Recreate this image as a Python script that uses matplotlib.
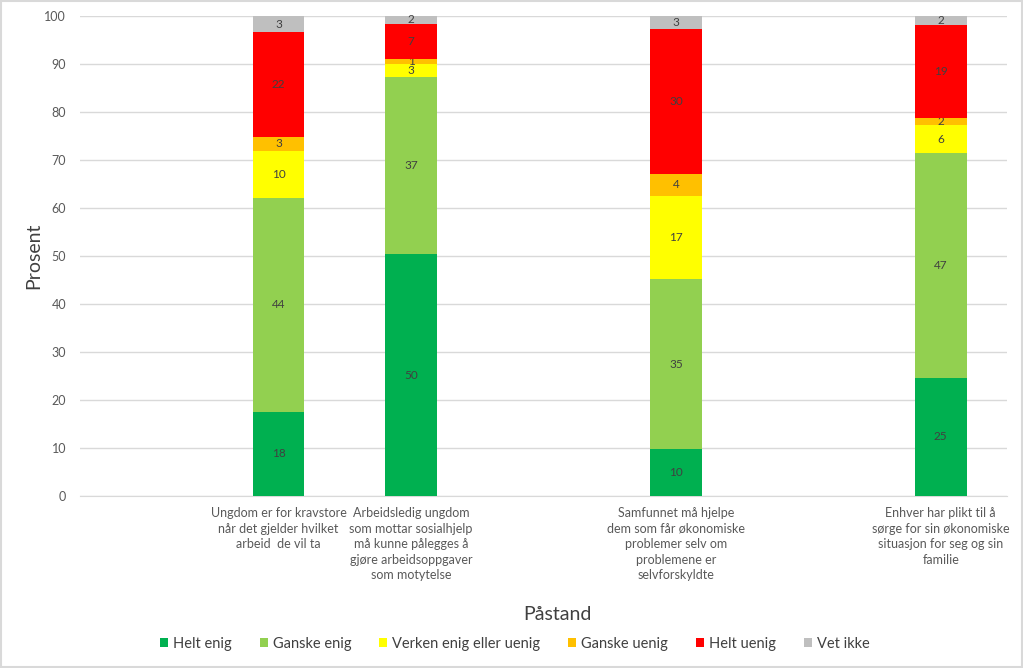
import numpy as np
import matplotlib
matplotlib.use('Agg')
import matplotlib.pyplot as plt

plt.rcParams['font.family'] = ['Lato', 'DejaVu Sans']

# categories (empty slots are part of the original chart's axis)
categories = ['',
              'Ungdom er for kravstore\nnår det gjelder hvilket\narbeid  de vil ta',
              'Arbeidsledig ungdom\nsom mottar sosialhjelp\nmå kunne pålegges å\ngjøre arbeidsoppgaver\nsom motytelse',
              '',
              'Samfunnet må hjelpe\ndem som får økonomiske\nproblemer selv om\nproblemene er\nselvforskyldte',
              '',
              'Enhver har plikt til å\nsørge for sin økonomiske\nsituasjon for seg og sin\nfamilie']

series_names = ['Helt enig', 'Ganske enig', 'Verken enig eller uenig',
                'Ganske uenig', 'Helt uenig', 'Vet ikke']
colors = ['#00B050', '#92D050', '#FFFF00', '#FFC000', '#FF0000', '#BFBFBF']

helt_enig    = [0, 17.6, 50.4, 0, 9.8, 0, 24.6]
ganske_enig  = [0, 44.5, 36.9, 0, 35.4, 0, 46.9]
verken       = [0, 9.8, 2.6, 0, 17.4, 0, 5.7]
ganske_uenig = [0, 2.9, 1.2, 0, 4.4, 0, 1.5]
helt_uenig   = [0, 21.8, 7.3, 0, 30.2, 0, 19.4]
vet_ikke     = [0, 3.4, 1.6, 0, 2.8, 0, 1.9]

series = [helt_enig, ganske_enig, verken, ganske_uenig, helt_uenig, vet_ikke]

fig = plt.figure(figsize=(10.23, 6.68), dpi=100)
ax = fig.add_axes([80/1023, 1-496/668, (1007-80)/1023, (496-16)/668])

x = np.arange(len(categories))
bottom = np.zeros(len(categories))
for name, vals, c in zip(series_names, series, colors):
    vals = np.array(vals, dtype=float)
    bars = ax.bar(x, vals, 0.39, bottom=bottom, color=c, label=name, zorder=3)
    labels = ['%.0f' % v if v > 0 else '' for v in vals]
    ax.bar_label(bars, labels=labels, label_type='center', fontsize=8.5, color='#404040')
    bottom += vals

ax.set_xlim(-0.5, len(categories) - 0.5)
ax.set_ylim(0, 100)
ax.set_yticks(np.arange(0, 101, 10))
ax.yaxis.grid(True, color='#D9D9D9', linewidth=1, zorder=0)
ax.set_xticks(x)
ax.set_xticklabels(categories, fontsize=9, color='#595959', linespacing=1.35, va='top')
ax.tick_params(axis='both', length=0, colors='#595959', labelsize=9)
ax.tick_params(axis='x', pad=8)
ax.tick_params(axis='y', pad=10)
for s in ['top', 'right', 'left']:
    ax.spines[s].set_visible(False)
ax.spines['bottom'].set_color('#D9D9D9')

ax.set_ylabel('Prosent', fontsize=14, color='#404040')
ax.yaxis.set_label_coords(-0.041, 0.5)
fig.text(557/1023, 1-614/668, 'Påstand', fontsize=14, color='#404040', ha='center', va='center')

fig.legend(loc='center', bbox_to_anchor=(515/1023, 1-644/668), ncol=6, frameon=False,
           fontsize=10.5, handlelength=0.55, handleheight=0.55, handletextpad=0.35,
           columnspacing=1.9, labelcolor='#404040')

# chart border
fig.patches.append(plt.Rectangle((0.001, 0.001), 0.998, 0.998, transform=fig.transFigure,
                                 fill=False, edgecolor='#D9D9D9', linewidth=1.5))

fig.savefig('out.png', dpi=100)
